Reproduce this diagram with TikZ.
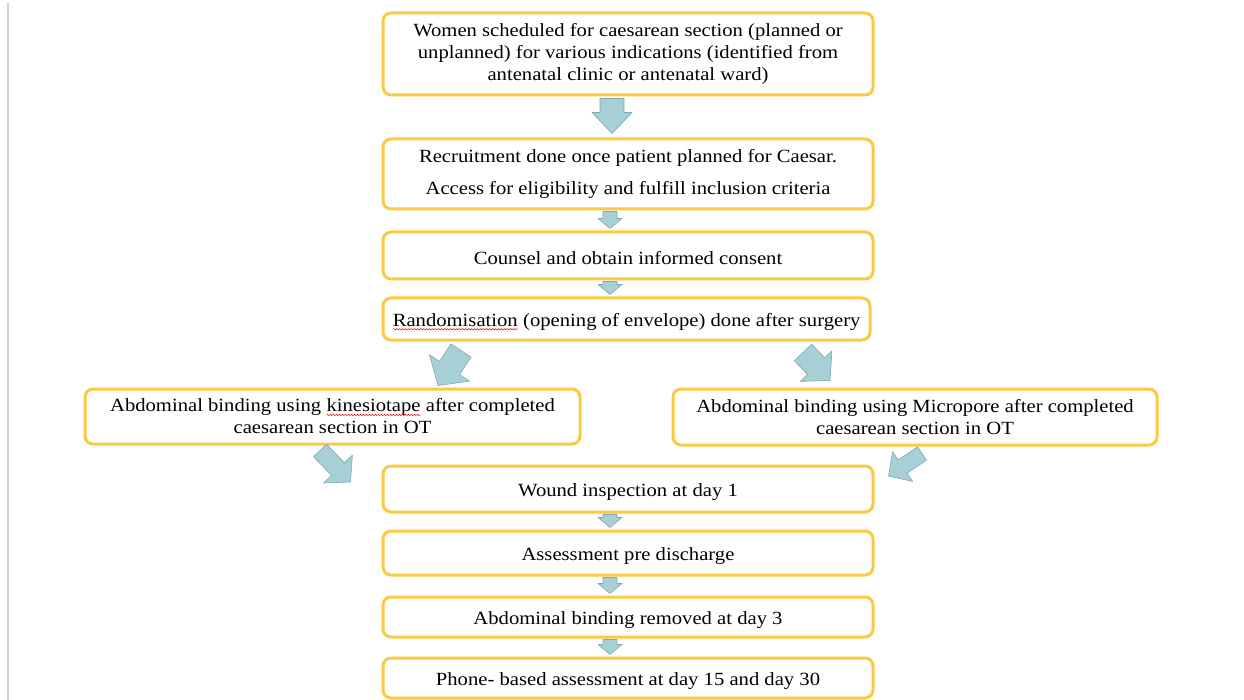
\documentclass[tikz,border=0pt]{standalone}
\usepackage{fontspec}
\setmainfont{Liberation Serif}[FakeStretch=1.11]
\usetikzlibrary{calc,decorations.pathmorphing}
\definecolor{boxgold}{RGB}{249,202,66}
\definecolor{arrowfill}{RGB}{167,207,214}
\definecolor{arrowline}{RGB}{128,168,178}
\definecolor{edgegray}{RGB}{210,210,210}
\newcommand\redwave[1]{\tikz[x=1cm,y=1cm,baseline=(w.base)]{\node[inner sep=0pt,outer sep=0pt,
    minimum width=0pt,minimum height=0pt,text height=,draw=none,fill=none,rounded corners=0pt](w){#1};
  \draw[red, line width=0.45pt, rounded corners=0pt, decorate, decoration={snake, amplitude=0.7pt, segment length=3pt}]
   ($(w.base west)+(0,-3pt)$) -- ($(w.base east)+(0,-3pt)$);}}
\tikzset{
  flowbox/.style={draw=boxgold, line width=3pt, rounded corners=8pt, fill=white,
    align=center, inner sep=0pt, font=\fontsize{18.6}{22}\selectfont},
  oneline/.style={flowbox, text height=18.5pt},
  blockarrow/.style={fill=arrowfill, draw=arrowline, line width=0.6pt, line join=round}
}
\newcommand\barrow[5]{%
  \coordinate (bah) at ($(#2)!#5!(#1)$);
  \path[blockarrow] ($(#1)!#3!90:(#2)$) -- ($(bah)!#3!90:(#2)$) -- ($(bah)!#4!90:(#2)$) -- (#2)
    -- ($(bah)!#4!-90:(#2)$) -- ($(bah)!#3!-90:(#2)$) -- ($(#1)!#3!-90:(#2)$) -- cycle;}
\begin{document}
\begin{tikzpicture}[x=1pt, y=-1pt]
\useasboundingbox[fill=white] (0,0) rectangle (1244,700);
\draw[edgegray, line width=2.5pt] (8,3) -- (8,700);

\node[flowbox, minimum width=490pt, minimum height=82pt] (b1) at (628,54)
  {Women scheduled for caesarean section (planned or\\ unplanned) for various indications (identified from\\ antenatal clinic or antenatal ward)};
\node[flowbox, minimum width=490pt, minimum height=70pt] (b2) at (628,174)
  {Recruitment done once patient planned for Caesar.\\[10pt] Access for eligibility and fulfill inclusion criteria};
\node[oneline, minimum width=490pt, minimum height=47pt] (b3) at (628,255.5)
  {Counsel and obtain informed consent};
\node[oneline, minimum width=487pt, minimum height=42pt] (b4) at (626.5,319)
  {\redwave{Randomisation} (opening of envelope) done after surgery};
\node[flowbox, minimum width=495pt, minimum height=55pt] (bl) at (332.5,416.5)
  {Abdominal binding using \redwave{kinesiotape} after completed\\ caesarean section in OT};
\node[flowbox, minimum width=484pt, minimum height=56pt] (br) at (915,417)
  {Abdominal binding using Micropore after completed\\ caesarean section in OT};
\node[oneline, minimum width=490pt, minimum height=46pt] (b5) at (628,489)
  {Wound inspection at day 1};
\node[oneline, minimum width=490pt, minimum height=44pt] (b6) at (628,553)
  {Assessment pre discharge};
\node[oneline, minimum width=490pt, minimum height=40pt] (b7) at (628,617)
  {Abdominal binding removed at day 3};
\node[oneline, minimum width=490pt, minimum height=40pt] (b8) at (628,678)
  {Phone- based assessment at day 15 and day 30};

% vertical block arrows
\coordinate (t1) at ($(b1.south)+(-16,2)$);  \coordinate (h1) at ($(b2.north)+(-16,-4)$);
\barrow{t1}{h1}{12pt}{20pt}{21pt}
\coordinate (t2) at ($(b2.south)+(-18,1)$);  \coordinate (h2) at ($(b3.north)+(-18,-2)$);
\barrow{t2}{h2}{7pt}{12pt}{10pt}
\coordinate (t3) at ($(b3.south)+(-18,1)$);  \coordinate (h3) at ($(b4.north)+(-16.5,-2)$);
\barrow{t3}{h3}{7pt}{12pt}{10pt}
\coordinate (t5) at ($(b5.south)+(-18,1)$);  \coordinate (h5) at ($(b6.north)+(-18,-2)$);
\barrow{t5}{h5}{7pt}{12pt}{10pt}
\coordinate (t6) at ($(b6.south)+(-18,1)$);  \coordinate (h6) at ($(b7.north)+(-18,-2)$);
\barrow{t6}{h6}{7pt}{12pt}{10pt}
\coordinate (t7) at ($(b7.south)+(-18,1)$);  \coordinate (h7) at ($(b8.north)+(-18,-2)$);
\barrow{t7}{h7}{7pt}{12pt}{10pt}

% diagonal block arrows
\coordinate (tl) at ($(b4.south)+(-165.5,9)$);  \coordinate (hl) at ($(bl.north)+(105.5,-2)$);
\barrow{tl}{hl}{12pt}{24pt}{21pt}
\coordinate (tr) at ($(b4.south)+(176.5,11)$);  \coordinate (hr) at ($(br.north)+(-85,-7)$);
\barrow{tr}{hr}{12pt}{22pt}{20pt}
\coordinate (tll) at ($(bl.south)+(-12.5,5)$);  \coordinate (hll) at ($(b5.west)+(-31,-7)$);
\barrow{tll}{hll}{9pt}{20pt}{18pt}
\coordinate (tlr) at ($(br.south)+(7,7)$);  \coordinate (hlr) at ($(b5.east)+(14,-13)$);
\barrow{tlr}{hlr}{8pt}{18pt}{17pt}
\end{tikzpicture}
\end{document}
